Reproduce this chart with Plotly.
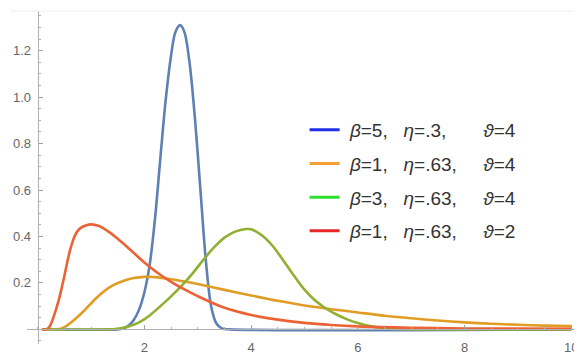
import plotly.graph_objects as go

# ---- data ----
blue_x = [0.08, 1.5, 1.6, 1.7, 1.8, 1.9, 2.0, 2.1, 2.2, 2.3, 2.4, 2.5, 2.58, 2.67, 2.75, 2.85, 2.95, 3.05, 3.15, 3.25, 3.35, 3.45, 3.6, 10.0]
blue_y = [0, 0, 0.004, 0.015, 0.04, 0.085, 0.16, 0.28, 0.48, 0.74, 0.99, 1.18, 1.28, 1.31, 1.28, 1.14, 0.9, 0.6, 0.3, 0.1, 0.025, 0.004, 0, 0]

orange_x = [0.08, 0.35, 0.45, 0.55, 0.65, 0.75, 0.85, 0.95, 1.1, 1.25, 1.4, 1.6, 1.8, 2.0, 2.2, 2.5, 2.75, 3.0, 3.5, 4.0, 4.5, 5.0, 5.5, 6.0, 6.5, 7.0, 7.5, 8.0, 8.5, 9.0, 9.5, 10.0]
orange_y = [0, 0, 0.004, 0.016, 0.034, 0.054, 0.076, 0.1, 0.135, 0.165, 0.188, 0.208, 0.221, 0.226, 0.225, 0.216, 0.206, 0.195, 0.17, 0.146, 0.123, 0.103, 0.087, 0.073, 0.059, 0.048, 0.038, 0.03, 0.024, 0.02, 0.016, 0.014]

green_x = [0.08, 1.3, 1.5, 1.7, 1.9, 2.1, 2.3, 2.5, 2.7, 2.9, 3.1, 3.3, 3.5, 3.7, 3.9, 4.0, 4.2, 4.4, 4.6, 4.8, 5.0, 5.2, 5.4, 5.6, 5.8, 6.0, 6.2, 6.4, 6.7, 7.0, 10.0]
green_y = [0, 0, 0.003, 0.012, 0.03, 0.06, 0.1, 0.142, 0.188, 0.24, 0.298, 0.352, 0.395, 0.421, 0.432, 0.431, 0.405, 0.36, 0.298, 0.232, 0.171, 0.124, 0.09, 0.064, 0.043, 0.027, 0.015, 0.007, 0.002, 0, 0]

red_x = [0.08, 0.15, 0.2, 0.25, 0.3, 0.35, 0.4, 0.45, 0.5, 0.55, 0.6, 0.65, 0.7, 0.75, 0.8, 0.9, 1.0, 1.15, 1.3, 1.5, 1.75, 2.0, 2.25, 2.5, 2.75, 3.0, 3.5, 4.0, 4.5, 5.0, 5.5, 6.0, 7.0, 8.0, 9.0, 10.0]
red_y = [0, 0, 0.005, 0.024, 0.055, 0.09, 0.13, 0.178, 0.23, 0.285, 0.335, 0.375, 0.405, 0.424, 0.436, 0.447, 0.452, 0.445, 0.425, 0.39, 0.34, 0.288, 0.243, 0.205, 0.172, 0.143, 0.093, 0.062, 0.042, 0.028, 0.019, 0.013, 0.007, 0.004, 0.003, 0.002]

curve_colors = ["#5E81B5", "#E19C24", "#8FB032", "#EB6235"]
legend_colors = ["#1f2fe8", "#f2a033", "#2ee02e", "#e82828"]

NB = "\u00a0"
legend_names = [
    NB + "<i>β</i>=5," + NB * 3 + "<i>η</i>=.3," + NB * 7 + "<i>ϑ</i>=4",
    NB + "<i>β</i>=1," + NB * 3 + "<i>η</i>=.63," + NB * 5 + "<i>ϑ</i>=4",
    NB + "<i>β</i>=3," + NB * 3 + "<i>η</i>=.63," + NB * 5 + "<i>ϑ</i>=4",
    NB + "<i>β</i>=1," + NB * 3 + "<i>η</i>=.63," + NB * 5 + "<i>ϑ</i>=2",
]

x_tickvals = [2, 4, 6, 8, 10]
x_ticktext = ["2", "4", "6", "8", "10"]
y_tickvals = [0.2, 0.4, 0.6, 0.8, 1.0, 1.2]
y_ticktext = ["0.2", "0.4", "0.6", "0.8", "1.0", "1.2"]

xr = [-0.2, 10.05]
yr = [-0.063, 1.371]

fig = go.Figure()
series = [(blue_x, blue_y), (orange_x, orange_y), (green_x, green_y), (red_x, red_y)]
for (xs, ys), c in zip(series, curve_colors):
    fig.add_trace(go.Scatter(x=xs, y=ys, mode="lines", showlegend=False,
                             line=dict(color=c, width=2.6, shape="spline", smoothing=0.9),
                             hoverinfo="skip"))
for i, (name, c) in enumerate(zip(legend_names, legend_colors)):
    fig.add_trace(go.Scatter(x=[None], y=[None], mode="lines", name=name,
                             legendgroup="g%d" % i,
                             line=dict(color=c, width=3)))

axis_common = dict(showgrid=False, zeroline=False, showline=True, linecolor="#b0b0b0",
                   linewidth=1, ticks="inside", ticklen=4, tickcolor="#a0a0a0",
                   tickfont=dict(family="Liberation Sans, Arial, sans-serif", size=13, color="#666666"),
                   anchor="free", fixedrange=True)

# the page body adds an 8px margin, so the figure is 8px smaller than the window
fig.update_layout(
    width=574, height=350,
    margin=dict(l=19, r=5, t=3, b=5),
    paper_bgcolor="white", plot_bgcolor="white",
    xaxis=dict(range=xr, tickmode="array", tickvals=x_tickvals, ticktext=x_ticktext,
               position=(0 - yr[0]) / (yr[1] - yr[0]),
               minor=dict(dtick=0.5, tick0=0, ticks="inside", ticklen=2.5, tickcolor="#b0b0b0"),
               ticklabelstandoff=6,
               **axis_common),
    yaxis=dict(range=yr, tickmode="array", tickvals=y_tickvals, ticktext=y_ticktext,
               position=(0 - xr[0]) / (xr[1] - xr[0]),
               minor=dict(dtick=0.05, tick0=0, ticks="inside", ticklen=2.5, tickcolor="#b0b0b0"),
               ticklabelstandoff=4,
               **axis_common),
    legend=dict(x=0.5075, y=0.70, xanchor="left", yanchor="top",
                bgcolor="rgba(0,0,0,0)", tracegroupgap=6,
                font=dict(family="Liberation Sans, Arial, sans-serif", size=19, color="#333333")),
    shapes=[dict(type="line", xref="paper", yref="paper", x0=-0.03, x1=1.01, y0=1, y1=1,
                 line=dict(color="#eeeeee", width=1))],
)

fig.write_html("out.html")
